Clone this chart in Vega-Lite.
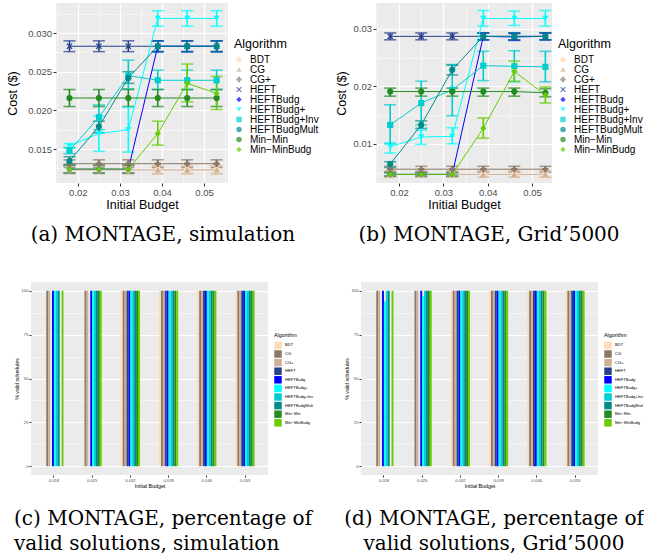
{
  "$schema": "https://vega.github.io/schema/vega-lite/v6.json",
  "padding": {"left": 6, "top": 3, "right": 0, "bottom": 0},
  "background": "white",
  "config": {
    "font": "Liberation Sans",
    "view": {"fill": "#EBEBEB", "stroke": null},
    "axis": {"domain": false, "gridColor": "#FFFFFF", "tickColor": "#333333", "labelColor": "#4D4D4D", "titleColor": "#000000", "titleFontWeight": "normal", "labelFont": "Liberation Sans", "titleFont": "Liberation Sans", "labelFlush": false, "labelOverlap": false},
    "legend": {"titleFontWeight": "normal", "titleColor": "#000000", "labelColor": "#000000", "labelFont": "Liberation Sans", "titleFont": "Liberation Sans", "rowPadding": -1.5, "symbolStrokeWidth": 0},
    "title": {"font": "DejaVu Serif", "fontSize": 20, "fontWeight": "normal", "color": "#000000"}
  },
  "datasets": {
    "sim": [
      {"algo": "BDT", "budget": 0.032, "cost": 0.0123, "lo": 0.0118, "hi": 0.0128},
      {"algo": "BDT", "budget": 0.039, "cost": 0.0123, "lo": 0.0118, "hi": 0.0128},
      {"algo": "BDT", "budget": 0.046, "cost": 0.0123, "lo": 0.0118, "hi": 0.0128},
      {"algo": "BDT", "budget": 0.053, "cost": 0.0123, "lo": 0.0118, "hi": 0.0128},
      {"algo": "CG", "budget": 0.018, "cost": 0.0123, "lo": 0.0118, "hi": 0.0128},
      {"algo": "CG", "budget": 0.025, "cost": 0.0123, "lo": 0.0118, "hi": 0.0128},
      {"algo": "CG", "budget": 0.032, "cost": 0.0123, "lo": 0.0118, "hi": 0.0128},
      {"algo": "CG", "budget": 0.039, "cost": 0.0123, "lo": 0.0118, "hi": 0.0128},
      {"algo": "CG", "budget": 0.046, "cost": 0.0123, "lo": 0.0118, "hi": 0.0128},
      {"algo": "CG", "budget": 0.053, "cost": 0.0123, "lo": 0.0118, "hi": 0.0128},
      {"algo": "CG+", "budget": 0.018, "cost": 0.0131, "lo": 0.0126, "hi": 0.0136},
      {"algo": "CG+", "budget": 0.025, "cost": 0.0131, "lo": 0.0126, "hi": 0.0136},
      {"algo": "CG+", "budget": 0.032, "cost": 0.0131, "lo": 0.0126, "hi": 0.0136},
      {"algo": "CG+", "budget": 0.039, "cost": 0.0131, "lo": 0.0126, "hi": 0.0136},
      {"algo": "CG+", "budget": 0.046, "cost": 0.0131, "lo": 0.0126, "hi": 0.0136},
      {"algo": "CG+", "budget": 0.053, "cost": 0.0131, "lo": 0.0126, "hi": 0.0136},
      {"algo": "HEFT", "budget": 0.018, "cost": 0.0283, "lo": 0.0276, "hi": 0.0290},
      {"algo": "HEFT", "budget": 0.025, "cost": 0.0283, "lo": 0.0276, "hi": 0.0290},
      {"algo": "HEFT", "budget": 0.032, "cost": 0.0283, "lo": 0.0276, "hi": 0.0290},
      {"algo": "HEFT", "budget": 0.039, "cost": 0.0283, "lo": 0.0276, "hi": 0.0290},
      {"algo": "HEFT", "budget": 0.046, "cost": 0.0283, "lo": 0.0276, "hi": 0.0290},
      {"algo": "HEFT", "budget": 0.053, "cost": 0.0283, "lo": 0.0276, "hi": 0.0290},
      {"algo": "HEFTBudg", "budget": 0.018, "cost": 0.0124, "lo": 0.0119, "hi": 0.0129},
      {"algo": "HEFTBudg", "budget": 0.025, "cost": 0.0124, "lo": 0.0119, "hi": 0.0129},
      {"algo": "HEFTBudg", "budget": 0.032, "cost": 0.0124, "lo": 0.0119, "hi": 0.0129},
      {"algo": "HEFTBudg", "budget": 0.039, "cost": 0.0283, "lo": 0.0276, "hi": 0.0290},
      {"algo": "HEFTBudg", "budget": 0.046, "cost": 0.0283, "lo": 0.0276, "hi": 0.0290},
      {"algo": "HEFTBudg", "budget": 0.053, "cost": 0.0283, "lo": 0.0276, "hi": 0.0290},
      {"algo": "HEFTBudg+", "budget": 0.018, "cost": 0.0154, "lo": 0.0151, "hi": 0.0157},
      {"algo": "HEFTBudg+", "budget": 0.025, "cost": 0.0170, "lo": 0.0147, "hi": 0.0193},
      {"algo": "HEFTBudg+", "budget": 0.032, "cost": 0.0175, "lo": 0.0146, "hi": 0.0204},
      {"algo": "HEFTBudg+", "budget": 0.039, "cost": 0.0319, "lo": 0.0309, "hi": 0.0329},
      {"algo": "HEFTBudg+", "budget": 0.046, "cost": 0.0319, "lo": 0.0309, "hi": 0.0329},
      {"algo": "HEFTBudg+", "budget": 0.053, "cost": 0.0319, "lo": 0.0309, "hi": 0.0329},
      {"algo": "HEFTBudg+Inv", "budget": 0.018, "cost": 0.0148, "lo": 0.0144, "hi": 0.0152},
      {"algo": "HEFTBudg+Inv", "budget": 0.025, "cost": 0.0191, "lo": 0.0175, "hi": 0.0207},
      {"algo": "HEFTBudg+Inv", "budget": 0.032, "cost": 0.0245, "lo": 0.0228, "hi": 0.0265},
      {"algo": "HEFTBudg+Inv", "budget": 0.039, "cost": 0.0239, "lo": 0.0227, "hi": 0.0252},
      {"algo": "HEFTBudg+Inv", "budget": 0.046, "cost": 0.0239, "lo": 0.0227, "hi": 0.0252},
      {"algo": "HEFTBudg+Inv", "budget": 0.053, "cost": 0.0239, "lo": 0.0227, "hi": 0.0252},
      {"algo": "HEFTBudgMult", "budget": 0.018, "cost": 0.01345, "lo": 0.0130, "hi": 0.0140},
      {"algo": "HEFTBudgMult", "budget": 0.025, "cost": 0.0179, "lo": 0.0171, "hi": 0.0186},
      {"algo": "HEFTBudgMult", "budget": 0.032, "cost": 0.0242, "lo": 0.0235, "hi": 0.0250},
      {"algo": "HEFTBudgMult", "budget": 0.039, "cost": 0.0283, "lo": 0.0276, "hi": 0.0290},
      {"algo": "HEFTBudgMult", "budget": 0.046, "cost": 0.0283, "lo": 0.0276, "hi": 0.0290},
      {"algo": "HEFTBudgMult", "budget": 0.053, "cost": 0.0283, "lo": 0.0276, "hi": 0.0290},
      {"algo": "Min−Min", "budget": 0.018, "cost": 0.0216, "lo": 0.0205, "hi": 0.0227},
      {"algo": "Min−Min", "budget": 0.025, "cost": 0.0216, "lo": 0.0205, "hi": 0.0227},
      {"algo": "Min−Min", "budget": 0.032, "cost": 0.0216, "lo": 0.0205, "hi": 0.0227},
      {"algo": "Min−Min", "budget": 0.039, "cost": 0.0216, "lo": 0.0205, "hi": 0.0227},
      {"algo": "Min−Min", "budget": 0.046, "cost": 0.0216, "lo": 0.0205, "hi": 0.0227},
      {"algo": "Min−Min", "budget": 0.053, "cost": 0.0216, "lo": 0.0205, "hi": 0.0227},
      {"algo": "Min−MinBudg", "budget": 0.018, "cost": 0.0124, "lo": 0.0119, "hi": 0.0129},
      {"algo": "Min−MinBudg", "budget": 0.025, "cost": 0.0124, "lo": 0.0119, "hi": 0.0129},
      {"algo": "Min−MinBudg", "budget": 0.032, "cost": 0.0124, "lo": 0.0119, "hi": 0.0129},
      {"algo": "Min−MinBudg", "budget": 0.039, "cost": 0.0170, "lo": 0.0155, "hi": 0.0186},
      {"algo": "Min−MinBudg", "budget": 0.046, "cost": 0.0235, "lo": 0.0211, "hi": 0.0260},
      {"algo": "Min−MinBudg", "budget": 0.053, "cost": 0.0222, "lo": 0.0201, "hi": 0.0244}
    ],
    "g5k": [
      {"algo": "BDT", "budget": 0.032, "cost": 0.0047, "lo": 0.0042, "hi": 0.0053},
      {"algo": "BDT", "budget": 0.039, "cost": 0.0047, "lo": 0.0042, "hi": 0.0053},
      {"algo": "BDT", "budget": 0.046, "cost": 0.0047, "lo": 0.0042, "hi": 0.0053},
      {"algo": "BDT", "budget": 0.053, "cost": 0.0047, "lo": 0.0042, "hi": 0.0053},
      {"algo": "CG", "budget": 0.018, "cost": 0.0047, "lo": 0.0042, "hi": 0.0053},
      {"algo": "CG", "budget": 0.025, "cost": 0.0047, "lo": 0.0042, "hi": 0.0053},
      {"algo": "CG", "budget": 0.032, "cost": 0.0047, "lo": 0.0042, "hi": 0.0053},
      {"algo": "CG", "budget": 0.039, "cost": 0.0047, "lo": 0.0042, "hi": 0.0053},
      {"algo": "CG", "budget": 0.046, "cost": 0.0047, "lo": 0.0042, "hi": 0.0053},
      {"algo": "CG", "budget": 0.053, "cost": 0.0047, "lo": 0.0042, "hi": 0.0053},
      {"algo": "CG+", "budget": 0.018, "cost": 0.0056, "lo": 0.0051, "hi": 0.0061},
      {"algo": "CG+", "budget": 0.025, "cost": 0.0056, "lo": 0.0051, "hi": 0.0061},
      {"algo": "CG+", "budget": 0.032, "cost": 0.0056, "lo": 0.0051, "hi": 0.0061},
      {"algo": "CG+", "budget": 0.039, "cost": 0.0056, "lo": 0.0051, "hi": 0.0061},
      {"algo": "CG+", "budget": 0.046, "cost": 0.0056, "lo": 0.0051, "hi": 0.0061},
      {"algo": "CG+", "budget": 0.053, "cost": 0.0056, "lo": 0.0051, "hi": 0.0061},
      {"algo": "HEFT", "budget": 0.018, "cost": 0.0287, "lo": 0.0281, "hi": 0.0293},
      {"algo": "HEFT", "budget": 0.025, "cost": 0.0287, "lo": 0.0281, "hi": 0.0293},
      {"algo": "HEFT", "budget": 0.032, "cost": 0.0287, "lo": 0.0281, "hi": 0.0293},
      {"algo": "HEFT", "budget": 0.039, "cost": 0.0287, "lo": 0.0281, "hi": 0.0293},
      {"algo": "HEFT", "budget": 0.046, "cost": 0.0287, "lo": 0.0281, "hi": 0.0293},
      {"algo": "HEFT", "budget": 0.053, "cost": 0.0287, "lo": 0.0281, "hi": 0.0293},
      {"algo": "HEFTBudg", "budget": 0.018, "cost": 0.0047, "lo": 0.0044, "hi": 0.0050},
      {"algo": "HEFTBudg", "budget": 0.025, "cost": 0.0047, "lo": 0.0044, "hi": 0.0050},
      {"algo": "HEFTBudg", "budget": 0.032, "cost": 0.0047, "lo": 0.0044, "hi": 0.0050},
      {"algo": "HEFTBudg", "budget": 0.039, "cost": 0.0287, "lo": 0.0281, "hi": 0.0293},
      {"algo": "HEFTBudg", "budget": 0.046, "cost": 0.0286, "lo": 0.0280, "hi": 0.0292},
      {"algo": "HEFTBudg", "budget": 0.053, "cost": 0.0287, "lo": 0.0281, "hi": 0.0293},
      {"algo": "HEFTBudg+", "budget": 0.018, "cost": 0.0095, "lo": 0.0084, "hi": 0.0102},
      {"algo": "HEFTBudg+", "budget": 0.025, "cost": 0.0112, "lo": 0.0099, "hi": 0.0124},
      {"algo": "HEFTBudg+", "budget": 0.032, "cost": 0.0113, "lo": 0.0100, "hi": 0.0128},
      {"algo": "HEFTBudg+", "budget": 0.039, "cost": 0.0318, "lo": 0.0305, "hi": 0.0332},
      {"algo": "HEFTBudg+", "budget": 0.046, "cost": 0.0318, "lo": 0.0306, "hi": 0.0331},
      {"algo": "HEFTBudg+", "budget": 0.053, "cost": 0.0318, "lo": 0.0305, "hi": 0.0332},
      {"algo": "HEFTBudg+Inv", "budget": 0.018, "cost": 0.0133, "lo": 0.0100, "hi": 0.0168},
      {"algo": "HEFTBudg+Inv", "budget": 0.025, "cost": 0.0171, "lo": 0.0133, "hi": 0.0209},
      {"algo": "HEFTBudg+Inv", "budget": 0.032, "cost": 0.0194, "lo": 0.0149, "hi": 0.0238},
      {"algo": "HEFTBudg+Inv", "budget": 0.039, "cost": 0.0236, "lo": 0.0210, "hi": 0.0261},
      {"algo": "HEFTBudg+Inv", "budget": 0.046, "cost": 0.0235, "lo": 0.0208, "hi": 0.0262},
      {"algo": "HEFTBudg+Inv", "budget": 0.053, "cost": 0.0234, "lo": 0.0208, "hi": 0.0261},
      {"algo": "HEFTBudgMult", "budget": 0.018, "cost": 0.0065, "lo": 0.0059, "hi": 0.0069},
      {"algo": "HEFTBudgMult", "budget": 0.025, "cost": 0.0133, "lo": 0.0127, "hi": 0.0140},
      {"algo": "HEFTBudgMult", "budget": 0.032, "cost": 0.0229, "lo": 0.0220, "hi": 0.0237},
      {"algo": "HEFTBudgMult", "budget": 0.039, "cost": 0.0287, "lo": 0.0281, "hi": 0.0293},
      {"algo": "HEFTBudgMult", "budget": 0.046, "cost": 0.0287, "lo": 0.0281, "hi": 0.0293},
      {"algo": "HEFTBudgMult", "budget": 0.053, "cost": 0.0287, "lo": 0.0281, "hi": 0.0293},
      {"algo": "Min−Min", "budget": 0.018, "cost": 0.0191, "lo": 0.0183, "hi": 0.0197},
      {"algo": "Min−Min", "budget": 0.025, "cost": 0.0191, "lo": 0.0183, "hi": 0.0197},
      {"algo": "Min−Min", "budget": 0.032, "cost": 0.0191, "lo": 0.0183, "hi": 0.0197},
      {"algo": "Min−Min", "budget": 0.039, "cost": 0.0191, "lo": 0.0183, "hi": 0.0197},
      {"algo": "Min−Min", "budget": 0.046, "cost": 0.0191, "lo": 0.0183, "hi": 0.0197},
      {"algo": "Min−Min", "budget": 0.053, "cost": 0.0189, "lo": 0.0182, "hi": 0.0196},
      {"algo": "Min−MinBudg", "budget": 0.018, "cost": 0.0047, "lo": 0.0044, "hi": 0.0050},
      {"algo": "Min−MinBudg", "budget": 0.025, "cost": 0.0047, "lo": 0.0044, "hi": 0.0050},
      {"algo": "Min−MinBudg", "budget": 0.032, "cost": 0.0047, "lo": 0.0044, "hi": 0.0050},
      {"algo": "Min−MinBudg", "budget": 0.039, "cost": 0.0127, "lo": 0.0110, "hi": 0.0145},
      {"algo": "Min−MinBudg", "budget": 0.046, "cost": 0.0226, "lo": 0.0209, "hi": 0.0244},
      {"algo": "Min−MinBudg", "budget": 0.053, "cost": 0.0185, "lo": 0.0171, "hi": 0.0199}
    ],
    "vsim": [
      {"budget": "0.018", "algo": "BDT", "pct": 0}, {"budget": "0.018", "algo": "CG", "pct": 100}, {"budget": "0.018", "algo": "CG+", "pct": 100}, {"budget": "0.018", "algo": "HEFT", "pct": 0}, {"budget": "0.018", "algo": "HEFTBudg", "pct": 100}, {"budget": "0.018", "algo": "HEFTBudg+", "pct": 100}, {"budget": "0.018", "algo": "HEFTBudg+Inv", "pct": 100}, {"budget": "0.018", "algo": "HEFTBudgMult", "pct": 100}, {"budget": "0.018", "algo": "Min−Min", "pct": 0}, {"budget": "0.018", "algo": "Min−MinBudg", "pct": 100},
      {"budget": "0.025", "algo": "BDT", "pct": 0}, {"budget": "0.025", "algo": "CG", "pct": 100}, {"budget": "0.025", "algo": "CG+", "pct": 100}, {"budget": "0.025", "algo": "HEFT", "pct": 0}, {"budget": "0.025", "algo": "HEFTBudg", "pct": 100}, {"budget": "0.025", "algo": "HEFTBudg+", "pct": 100}, {"budget": "0.025", "algo": "HEFTBudg+Inv", "pct": 100}, {"budget": "0.025", "algo": "HEFTBudgMult", "pct": 100}, {"budget": "0.025", "algo": "Min−Min", "pct": 100}, {"budget": "0.025", "algo": "Min−MinBudg", "pct": 100},
      {"budget": "0.032", "algo": "BDT", "pct": 100}, {"budget": "0.032", "algo": "CG", "pct": 100}, {"budget": "0.032", "algo": "CG+", "pct": 100}, {"budget": "0.032", "algo": "HEFT", "pct": 100}, {"budget": "0.032", "algo": "HEFTBudg", "pct": 100}, {"budget": "0.032", "algo": "HEFTBudg+", "pct": 100}, {"budget": "0.032", "algo": "HEFTBudg+Inv", "pct": 100}, {"budget": "0.032", "algo": "HEFTBudgMult", "pct": 100}, {"budget": "0.032", "algo": "Min−Min", "pct": 100}, {"budget": "0.032", "algo": "Min−MinBudg", "pct": 100},
      {"budget": "0.039", "algo": "BDT", "pct": 100}, {"budget": "0.039", "algo": "CG", "pct": 100}, {"budget": "0.039", "algo": "CG+", "pct": 100}, {"budget": "0.039", "algo": "HEFT", "pct": 100}, {"budget": "0.039", "algo": "HEFTBudg", "pct": 100}, {"budget": "0.039", "algo": "HEFTBudg+", "pct": 100}, {"budget": "0.039", "algo": "HEFTBudg+Inv", "pct": 100}, {"budget": "0.039", "algo": "HEFTBudgMult", "pct": 100}, {"budget": "0.039", "algo": "Min−Min", "pct": 100}, {"budget": "0.039", "algo": "Min−MinBudg", "pct": 100},
      {"budget": "0.046", "algo": "BDT", "pct": 100}, {"budget": "0.046", "algo": "CG", "pct": 100}, {"budget": "0.046", "algo": "CG+", "pct": 100}, {"budget": "0.046", "algo": "HEFT", "pct": 100}, {"budget": "0.046", "algo": "HEFTBudg", "pct": 100}, {"budget": "0.046", "algo": "HEFTBudg+", "pct": 100}, {"budget": "0.046", "algo": "HEFTBudg+Inv", "pct": 100}, {"budget": "0.046", "algo": "HEFTBudgMult", "pct": 100}, {"budget": "0.046", "algo": "Min−Min", "pct": 100}, {"budget": "0.046", "algo": "Min−MinBudg", "pct": 100},
      {"budget": "0.053", "algo": "BDT", "pct": 100}, {"budget": "0.053", "algo": "CG", "pct": 100}, {"budget": "0.053", "algo": "CG+", "pct": 100}, {"budget": "0.053", "algo": "HEFT", "pct": 100}, {"budget": "0.053", "algo": "HEFTBudg", "pct": 100}, {"budget": "0.053", "algo": "HEFTBudg+", "pct": 100}, {"budget": "0.053", "algo": "HEFTBudg+Inv", "pct": 100}, {"budget": "0.053", "algo": "HEFTBudgMult", "pct": 100}, {"budget": "0.053", "algo": "Min−Min", "pct": 100}, {"budget": "0.053", "algo": "Min−MinBudg", "pct": 100}
    ],
    "vg5k": [
      {"budget": "0.018", "algo": "BDT", "pct": 0}, {"budget": "0.018", "algo": "CG", "pct": 100}, {"budget": "0.018", "algo": "CG+", "pct": 100}, {"budget": "0.018", "algo": "HEFT", "pct": 0}, {"budget": "0.018", "algo": "HEFTBudg", "pct": 100}, {"budget": "0.018", "algo": "HEFTBudg+", "pct": 94}, {"budget": "0.018", "algo": "HEFTBudg+Inv", "pct": 100}, {"budget": "0.018", "algo": "HEFTBudgMult", "pct": 100}, {"budget": "0.018", "algo": "Min−Min", "pct": 0}, {"budget": "0.018", "algo": "Min−MinBudg", "pct": 100},
      {"budget": "0.025", "algo": "BDT", "pct": 0}, {"budget": "0.025", "algo": "CG", "pct": 100}, {"budget": "0.025", "algo": "CG+", "pct": 100}, {"budget": "0.025", "algo": "HEFT", "pct": 0}, {"budget": "0.025", "algo": "HEFTBudg", "pct": 100}, {"budget": "0.025", "algo": "HEFTBudg+", "pct": 97}, {"budget": "0.025", "algo": "HEFTBudg+Inv", "pct": 100}, {"budget": "0.025", "algo": "HEFTBudgMult", "pct": 100}, {"budget": "0.025", "algo": "Min−Min", "pct": 100}, {"budget": "0.025", "algo": "Min−MinBudg", "pct": 100},
      {"budget": "0.032", "algo": "BDT", "pct": 100}, {"budget": "0.032", "algo": "CG", "pct": 100}, {"budget": "0.032", "algo": "CG+", "pct": 100}, {"budget": "0.032", "algo": "HEFT", "pct": 100}, {"budget": "0.032", "algo": "HEFTBudg", "pct": 100}, {"budget": "0.032", "algo": "HEFTBudg+", "pct": 100}, {"budget": "0.032", "algo": "HEFTBudg+Inv", "pct": 100}, {"budget": "0.032", "algo": "HEFTBudgMult", "pct": 100}, {"budget": "0.032", "algo": "Min−Min", "pct": 100}, {"budget": "0.032", "algo": "Min−MinBudg", "pct": 100},
      {"budget": "0.039", "algo": "BDT", "pct": 100}, {"budget": "0.039", "algo": "CG", "pct": 100}, {"budget": "0.039", "algo": "CG+", "pct": 100}, {"budget": "0.039", "algo": "HEFT", "pct": 100}, {"budget": "0.039", "algo": "HEFTBudg", "pct": 100}, {"budget": "0.039", "algo": "HEFTBudg+", "pct": 100}, {"budget": "0.039", "algo": "HEFTBudg+Inv", "pct": 100}, {"budget": "0.039", "algo": "HEFTBudgMult", "pct": 100}, {"budget": "0.039", "algo": "Min−Min", "pct": 100}, {"budget": "0.039", "algo": "Min−MinBudg", "pct": 100},
      {"budget": "0.046", "algo": "BDT", "pct": 100}, {"budget": "0.046", "algo": "CG", "pct": 100}, {"budget": "0.046", "algo": "CG+", "pct": 100}, {"budget": "0.046", "algo": "HEFT", "pct": 100}, {"budget": "0.046", "algo": "HEFTBudg", "pct": 100}, {"budget": "0.046", "algo": "HEFTBudg+", "pct": 100}, {"budget": "0.046", "algo": "HEFTBudg+Inv", "pct": 100}, {"budget": "0.046", "algo": "HEFTBudgMult", "pct": 100}, {"budget": "0.046", "algo": "Min−Min", "pct": 100}, {"budget": "0.046", "algo": "Min−MinBudg", "pct": 100},
      {"budget": "0.053", "algo": "BDT", "pct": 100}, {"budget": "0.053", "algo": "CG", "pct": 100}, {"budget": "0.053", "algo": "CG+", "pct": 100}, {"budget": "0.053", "algo": "HEFT", "pct": 100}, {"budget": "0.053", "algo": "HEFTBudg", "pct": 100}, {"budget": "0.053", "algo": "HEFTBudg+", "pct": 100}, {"budget": "0.053", "algo": "HEFTBudg+Inv", "pct": 100}, {"budget": "0.053", "algo": "HEFTBudgMult", "pct": 100}, {"budget": "0.053", "algo": "Min−Min", "pct": 100}, {"budget": "0.053", "algo": "Min−MinBudg", "pct": 100}
    ]
  },
  "spacing": 37,
  "resolve": {"scale": {"color": "independent", "shape": "independent", "x": "independent", "y": "independent", "xOffset": "independent"}, "legend": {"color": "independent", "shape": "independent"}},
  "vconcat": [
    {
      "spacing": -26,
      "resolve": {"scale": {"color": "independent", "shape": "independent", "x": "independent", "y": "independent"}, "legend": {"color": "independent", "shape": "independent"}},
      "hconcat": [
        {"width": 1, "height": 1, "view": {"fill": null, "stroke": null}, "data": {"values": []}, "mark": "point"},
        {
          "spacing": 16,
          "resolve": {"scale": {"color": "independent", "shape": "independent", "x": "independent", "y": "independent"}, "legend": {"color": "independent", "shape": "independent"}},
          "hconcat": [
            {
              "width": 172, "height": 180,
              "data": {"name": "sim"},
              "title": {"text": "(a) MONTAGE, simulation", "orient": "bottom", "anchor": "middle", "frame": "bounds", "offset": 14},
              "encoding": {
                "x": {"field": "budget", "type": "quantitative", "title": "Initial Budget",
                  "scale": {"domain": [0.0148, 0.0557], "nice": false, "zero": false},
                  "axis": {"values": [0.015, 0.02, 0.025, 0.03, 0.035, 0.04, 0.045, 0.05, 0.055],
                    "labelExpr": "abs(datum.value*100 - round(datum.value*100)) < 0.01 ? format(datum.value, '.2f') : ''",
                    "gridWidth": {"condition": {"test": "abs(datum.value*100 - round(datum.value*100)) < 0.01", "value": 1.2}, "value": 0.5},
                    "tickOpacity": {"condition": {"test": "abs(datum.value*100 - round(datum.value*100)) < 0.01", "value": 1}, "value": 0},
                    "tickSize": 3, "labelFontSize": 9.5, "labelPadding": 1, "titleFontSize": 12.5, "titlePadding": 2}},
                "y": {"field": "cost", "type": "quantitative", "title": "Cost ($)", "scale": {"domain": [0.0106, 0.0339], "nice": false, "zero": false},
                  "axis": {"values": [0.0125, 0.015, 0.0175, 0.02, 0.0225, 0.025, 0.0275, 0.03, 0.0325],
                    "labelExpr": "abs(datum.value*200 - round(datum.value*200)) < 0.01 ? format(datum.value, '.3f') : ''",
                    "gridWidth": {"condition": {"test": "abs(datum.value*200 - round(datum.value*200)) < 0.01", "value": 1.2}, "value": 0.5},
                    "tickOpacity": {"condition": {"test": "abs(datum.value*200 - round(datum.value*200)) < 0.01", "value": 1}, "value": 0},
                    "tickSize": 3, "labelFontSize": 9.5, "labelPadding": 1.5, "titleFontSize": 12.5, "titlePadding": 8}},
                "color": {"field": "algo", "type": "nominal", "title": "Algorithm",
                  "scale": {"domain": ["BDT", "CG", "CG+", "HEFT", "HEFTBudg", "HEFTBudg+", "HEFTBudg+Inv", "HEFTBudgMult", "Min−Min", "Min−MinBudg"],
                    "range": ["#FFDAB9", "#CDAF95", "#8B7765", "#27408B", "#0000FF", "#00FFFF", "#00CDCD", "#008B8B", "#228B22", "#66CD00"]},
                  "legend": {"orient": "none", "legendX": 178, "legendY": 35, "titleFontSize": 12.5, "labelFontSize": 10, "symbolSize": 30, "titlePadding": 4, "labelOffset": 6, "padding": 0}}
              },
              "layer": [
                {"mark": {"type": "errorbar", "ticks": {"size": 12}, "thickness": 1.6},
                 "encoding": {"y": {"field": "lo", "type": "quantitative", "title": "Cost ($)"}, "y2": {"field": "hi"}}},
                {"mark": {"type": "line", "strokeWidth": 1}},
                {"mark": {"type": "point", "filled": true, "size": 38, "opacity": 1},
                 "encoding": {
                   "shape": {"field": "algo", "type": "nominal", "title": "Algorithm",
                     "scale": {"domain": ["BDT", "CG", "CG+", "HEFT", "HEFTBudg", "HEFTBudg+", "HEFTBudg+Inv", "HEFTBudgMult", "Min−Min", "Min−MinBudg"],
                       "range": ["circle", "triangle-up", "cross", "M-1,-0.7L-0.7,-1L0,-0.3L0.7,-1L1,-0.7L0.3,0L1,0.7L0.7,1L0,0.3L-0.7,1L-1,0.7L-0.3,0Z", "diamond", "triangle-down", "square", "circle", "circle", "diamond"]},
                     "legend": {"orient": "none", "legendX": 178, "legendY": 35, "titleFontSize": 12.5, "labelFontSize": 10, "symbolSize": 30, "titlePadding": 4, "labelOffset": 6, "padding": 0}}}}
              ]
            },
            {
              "width": 176, "height": 180,
              "data": {"name": "g5k"},
              "title": {"text": "(b) MONTAGE, Grid’5000", "orient": "bottom", "anchor": "middle", "frame": "bounds", "offset": 14},
              "encoding": {
                "x": {"field": "budget", "type": "quantitative", "title": "Initial Budget",
                  "scale": {"domain": [0.0148, 0.0545], "nice": false, "zero": false},
                  "axis": {"values": [0.015, 0.02, 0.025, 0.03, 0.035, 0.04, 0.045, 0.05],
                    "labelExpr": "abs(datum.value*100 - round(datum.value*100)) < 0.01 ? format(datum.value, '.2f') : ''",
                    "gridWidth": {"condition": {"test": "abs(datum.value*100 - round(datum.value*100)) < 0.01", "value": 1.2}, "value": 0.5},
                    "tickOpacity": {"condition": {"test": "abs(datum.value*100 - round(datum.value*100)) < 0.01", "value": 1}, "value": 0},
                    "tickSize": 3, "labelFontSize": 9.5, "labelPadding": 1, "titleFontSize": 12.5, "titlePadding": 2}},
                "y": {"field": "cost", "type": "quantitative", "title": "Cost ($)", "scale": {"domain": [0.0032, 0.0345], "nice": false, "zero": false},
                  "axis": {"values": [0.005, 0.01, 0.015, 0.02, 0.025, 0.03],
                    "labelExpr": "abs(datum.value*100 - round(datum.value*100)) < 0.01 ? format(datum.value, '.2f') : ''",
                    "gridWidth": {"condition": {"test": "abs(datum.value*100 - round(datum.value*100)) < 0.01", "value": 1.2}, "value": 0.5},
                    "tickOpacity": {"condition": {"test": "abs(datum.value*100 - round(datum.value*100)) < 0.01", "value": 1}, "value": 0},
                    "tickSize": 3, "labelFontSize": 9.5, "labelPadding": 1.5, "titleFontSize": 12.5, "titlePadding": 5}},
                "color": {"field": "algo", "type": "nominal", "title": "Algorithm",
                  "scale": {"domain": ["BDT", "CG", "CG+", "HEFT", "HEFTBudg", "HEFTBudg+", "HEFTBudg+Inv", "HEFTBudgMult", "Min−Min", "Min−MinBudg"],
                    "range": ["#FFDAB9", "#CDAF95", "#8B7765", "#27408B", "#0000FF", "#00FFFF", "#00CDCD", "#008B8B", "#228B22", "#66CD00"]},
                  "legend": {"orient": "none", "legendX": 182, "legendY": 35, "titleFontSize": 12.5, "labelFontSize": 10, "symbolSize": 30, "titlePadding": 4, "labelOffset": 6, "padding": 0}}
              },
              "layer": [
                {"mark": {"type": "errorbar", "ticks": {"size": 12}, "thickness": 1.6},
                 "encoding": {"y": {"field": "lo", "type": "quantitative", "title": "Cost ($)"}, "y2": {"field": "hi"}}},
                {"mark": {"type": "line", "strokeWidth": 1}},
                {"mark": {"type": "point", "filled": true, "size": 38, "opacity": 1},
                 "encoding": {
                   "shape": {"field": "algo", "type": "nominal", "title": "Algorithm",
                     "scale": {"domain": ["BDT", "CG", "CG+", "HEFT", "HEFTBudg", "HEFTBudg+", "HEFTBudg+Inv", "HEFTBudgMult", "Min−Min", "Min−MinBudg"],
                       "range": ["circle", "triangle-up", "cross", "M-1,-0.7L-0.7,-1L0,-0.3L0.7,-1L1,-0.7L0.3,0L1,0.7L0.7,1L0,0.3L-0.7,1L-1,0.7L-0.3,0Z", "diamond", "triangle-down", "square", "circle", "circle", "diamond"]},
                     "legend": {"orient": "none", "legendX": 182, "legendY": 35, "titleFontSize": 12.5, "labelFontSize": 10, "symbolSize": 30, "titlePadding": 4, "labelOffset": 6, "padding": 0}}}}
              ]
            }
          ]
        }
      ]
    },
    {
      "spacing": 30,
      "resolve": {"scale": {"color": "independent", "x": "independent", "y": "independent", "xOffset": "independent"}, "legend": {"color": "independent"}},
      "hconcat": [
        {
          "width": 237, "height": 193,
          "data": {"name": "vsim"},
          "title": {"text": ["(c) MONTAGE, percentage of", "valid solutions, simulation"], "orient": "bottom", "anchor": "start", "frame": "bounds", "offset": 20, "lineHeight": 25},
          "mark": {"type": "bar"},
          "encoding": {
            "x": {"field": "budget", "type": "ordinal", "title": "Initial Budget",
              "scale": {"paddingInner": 0.5, "paddingOuter": 0.35},
              "axis": {"bandPosition": 0.5, "labelAngle": 0, "gridWidth": 1, "tickSize": 2, "labelFontSize": 4.2, "labelPadding": 1, "titleFontSize": 5.3, "titlePadding": 1}},
            "xOffset": {"field": "algo", "type": "nominal",
              "scale": {"domain": ["BDT", "CG", "CG+", "HEFT", "HEFTBudg", "HEFTBudg+", "HEFTBudg+Inv", "HEFTBudgMult", "Min−Min", "Min−MinBudg"], "paddingInner": 0, "paddingOuter": 0}},
            "y": {"field": "pct", "type": "quantitative", "title": "% valid schedules",
              "scale": {"domain": [-5, 105], "nice": false},
              "axis": {"values": [0, 12.5, 25, 37.5, 50, 62.5, 75, 87.5, 100],
                "labelExpr": "datum.value % 25 == 0 ? format(datum.value, 'd') : ''",
                "gridWidth": {"condition": {"test": "datum.value % 25 == 0", "value": 1}, "value": 0.5},
                "tickOpacity": {"condition": {"test": "datum.value % 25 == 0", "value": 1}, "value": 0},
                "tickSize": 2, "labelFontSize": 4.2, "labelPadding": 1, "titleFontSize": 5.2, "titlePadding": 2}},
            "color": {"field": "algo", "type": "nominal", "title": "Algorithm",
              "scale": {"domain": ["BDT", "CG", "CG+", "HEFT", "HEFTBudg", "HEFTBudg+", "HEFTBudg+Inv", "HEFTBudgMult", "Min−Min", "Min−MinBudg"],
                "range": ["#FFDAB9", "#8B7765", "#CDAF95", "#27408B", "#0000FF", "#00FFFF", "#00CDCD", "#008B8B", "#228B22", "#66CD00"]},
              "legend": {"orient": "none", "legendX": 243, "legendY": 51, "titleFontSize": 5.4, "labelFontSize": 4.1, "symbolType": "square", "symbolSize": 56, "rowPadding": 0.6, "titlePadding": 3, "labelOffset": 3, "padding": 0}}
          }
        },
        {
          "width": 237, "height": 193,
          "data": {"name": "vg5k"},
          "title": {"text": ["(d) MONTAGE, percentage of", "valid solutions, Grid’5000"], "orient": "bottom", "anchor": "middle", "frame": "bounds", "offset": 20, "lineHeight": 25},
          "mark": {"type": "bar"},
          "encoding": {
            "x": {"field": "budget", "type": "ordinal", "title": "Initial Budget",
              "scale": {"paddingInner": 0.5, "paddingOuter": 0.35},
              "axis": {"bandPosition": 0.5, "labelAngle": 0, "gridWidth": 1, "tickSize": 2, "labelFontSize": 4.2, "labelPadding": 1, "titleFontSize": 5.3, "titlePadding": 1}},
            "xOffset": {"field": "algo", "type": "nominal",
              "scale": {"domain": ["BDT", "CG", "CG+", "HEFT", "HEFTBudg", "HEFTBudg+", "HEFTBudg+Inv", "HEFTBudgMult", "Min−Min", "Min−MinBudg"], "paddingInner": 0, "paddingOuter": 0}},
            "y": {"field": "pct", "type": "quantitative", "title": "% valid schedules",
              "scale": {"domain": [-5, 105], "nice": false},
              "axis": {"values": [0, 12.5, 25, 37.5, 50, 62.5, 75, 87.5, 100],
                "labelExpr": "datum.value % 25 == 0 ? format(datum.value, 'd') : ''",
                "gridWidth": {"condition": {"test": "datum.value % 25 == 0", "value": 1}, "value": 0.5},
                "tickOpacity": {"condition": {"test": "datum.value % 25 == 0", "value": 1}, "value": 0},
                "tickSize": 2, "labelFontSize": 4.2, "labelPadding": 1, "titleFontSize": 5.2, "titlePadding": 2}},
            "color": {"field": "algo", "type": "nominal", "title": "Algorithm",
              "scale": {"domain": ["BDT", "CG", "CG+", "HEFT", "HEFTBudg", "HEFTBudg+", "HEFTBudg+Inv", "HEFTBudgMult", "Min−Min", "Min−MinBudg"],
                "range": ["#FFDAB9", "#8B7765", "#CDAF95", "#27408B", "#0000FF", "#00FFFF", "#00CDCD", "#008B8B", "#228B22", "#66CD00"]},
              "legend": {"orient": "none", "legendX": 243, "legendY": 51, "titleFontSize": 5.4, "labelFontSize": 4.1, "symbolType": "square", "symbolSize": 56, "rowPadding": 0.6, "titlePadding": 3, "labelOffset": 3, "padding": 0}}
          }
        }
      ]
    }
  ]
}
